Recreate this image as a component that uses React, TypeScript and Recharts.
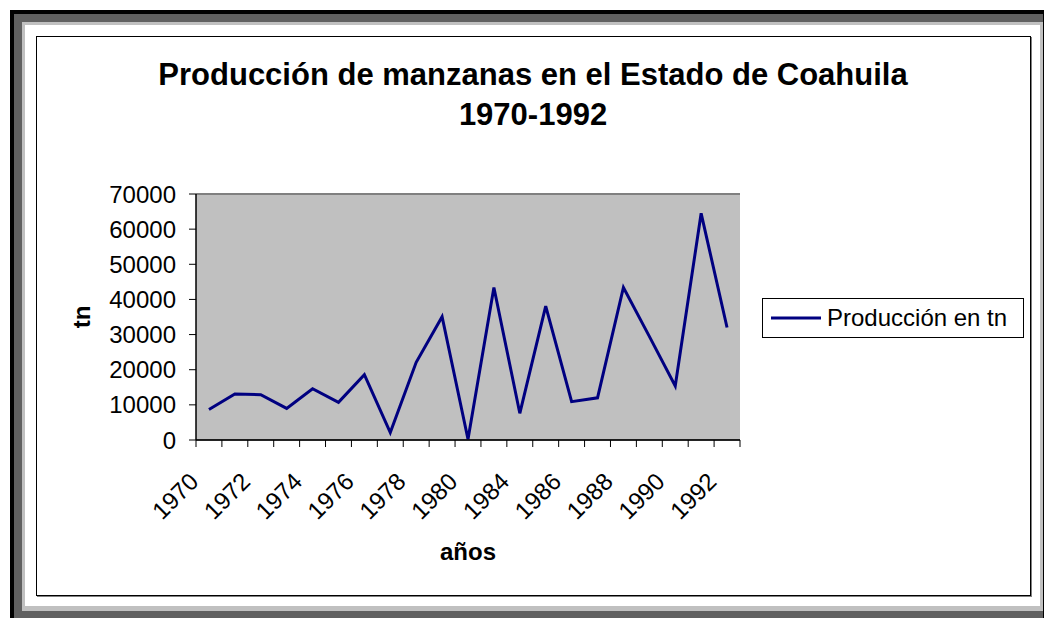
import React from 'react';
import { LineChart, Line, XAxis, YAxis, CartesianGrid, Legend, ReferenceLine } from 'recharts';

const years = ['1970', '1971', '1972', '1973', '1974', '1975', '1976', '1977', '1978', '1979', '1980', '1983', '1984', '1985', '1986', '1987', '1988', '1989', '1990', '1991', '1992'];
const production = [8700, 13100, 12900, 9000, 14600, 10700, 18600, 2100, 22100, 35100, 200, 43400, 7600, 38100, 10900, 12000, 43400, 29500, 15400, 64500, 32000];
const yTicks = [0, 10000, 20000, 30000, 40000, 50000, 60000, 70000];
const seriesName = 'Producción en tn';
const titleLines = ['Producción de manzanas en el Estado de Coahuila', '1970-1992'];
const xTitle = 'años';
const yTitle = 'tn';

const data = years.map((y, i) => ({ year: y, value: production[i] }));

const FONT = '"Liberation Sans", Arial, sans-serif';

const XTick = (props: any) => {
  const { x, y, payload, index, visibleTicksCount } = props;
  const off = payload && payload.offset ? payload.offset : 544 / 21 / 2;
  const lx = x - 9;
  const ly = y + 43;
  const last = index === (visibleTicksCount ? visibleTicksCount - 1 : years.length - 1);
  return (
    <g>
      <line x1={x - off} y1={y} x2={x - off} y2={y + 7} stroke="#000" strokeWidth={1} />
      {last && <line x1={x + off} y1={y} x2={x + off} y2={y + 7} stroke="#000" strokeWidth={1} />}
      {index % 2 === 0 && (
        <text x={lx} y={ly} textAnchor="end" fontSize={24} fontFamily={FONT} fill="#000" transform={`rotate(-45, ${lx}, ${ly})`}>
          {payload.value}
        </text>
      )}
    </g>
  );
};

const renderLegend = () => (
  <div style={{ boxSizing: 'border-box', width: 262, height: 40, border: '1px solid #000', background: '#fff', display: 'flex', alignItems: 'center', fontFamily: FONT }}>
    <svg width={60} height={38} style={{ display: 'block' }}>
      <line x1={8} y1={19} x2={58} y2={19} stroke="#000080" strokeWidth={3} />
    </svg>
    <span style={{ fontSize: 24, color: '#000', marginLeft: 4, whiteSpace: 'nowrap' }}>{seriesName}</span>
  </div>
);

export default function App() {
  return (
    <div style={{ position: 'fixed', left: 0, top: 0, width: 1044, height: 618, background: '#fff', overflow: 'hidden' }}>
      <div style={{ position: 'absolute', left: 10, top: 10, width: 1034, height: 620, background: '#000' }} />
      <div style={{ position: 'absolute', left: 14, top: 14, width: 1029, height: 616, background: '#606060' }} />
      <div style={{ position: 'absolute', left: 22, top: 22, width: 1021, height: 589, background: '#c0c0c0' }} />
      <div style={{ position: 'absolute', left: 25, top: 25, width: 1015, height: 581, background: '#fff' }} />
      <div style={{ position: 'absolute', left: 36, top: 36, width: 995, height: 560, boxSizing: 'border-box', border: '1px solid #000', boxShadow: '1px 1px 0 #808080' }} />
      <div style={{ position: 'absolute', left: 33, top: 55, width: 1000, textAlign: 'center', fontFamily: FONT, fontWeight: 'bold', fontSize: 31, lineHeight: '40px', color: '#000', whiteSpace: 'nowrap' }}>
        {titleLines.map((t, i) => (
          <div key={i}>{t}</div>
        ))}
      </div>
      <div style={{ position: 'absolute', left: 0, top: 0 }}>
        <LineChart width={1044} height={618} data={data} margin={{ top: 194, right: 42, bottom: 58, left: 76 }}>
          <CartesianGrid vertical={false} fill="#c0c0c0" stroke="#222" strokeWidth={1} />
          <XAxis
            dataKey="year"
            scale="band"
            interval={0}
            height={120}
            tickSize={0}
            tickMargin={0}
            tickLine={false}
            axisLine={{ stroke: '#000', strokeWidth: 1.5 }}
            tick={<XTick />}
            label={{ value: xTitle, position: 'insideBottom', offset: 0, style: { fontFamily: FONT, fontSize: 24, fontWeight: 'bold', fill: '#000' } }}
          />
          <YAxis
            yAxisId="left"
            domain={[0, 70000]}
            ticks={yTicks}
            width={120}
            tickSize={7}
            tickMargin={13}
            tick={{ fontFamily: FONT, fontSize: 24, fill: '#000' }}
            tickLine={{ stroke: '#000' }}
            axisLine={{ stroke: '#000', strokeWidth: 1.5 }}
            label={{ value: yTitle, angle: -90, position: 'insideLeft', offset: 5, style: { fontFamily: FONT, fontSize: 24, fontWeight: 'bold', fill: '#000', textAnchor: 'middle' } }}
          />
          <YAxis yAxisId="right" orientation="right" width={0} domain={[0, 70000]} tick={false} tickLine={false} axisLine={{ stroke: '#808080', strokeWidth: 2 }} />
          <ReferenceLine yAxisId="left" y={70000} stroke="#808080" strokeWidth={2} />
          <Line yAxisId="left" type="linear" dataKey="value" name={seriesName} stroke="#000080" strokeWidth={3} dot={false} isAnimationActive={false} />
          <Legend layout="vertical" align="right" verticalAlign="middle" width={262} content={renderLegend} wrapperStyle={{ left: 762, top: 298, width: 262, height: 40 }} />
        </LineChart>
      </div>
    </div>
  );
}
